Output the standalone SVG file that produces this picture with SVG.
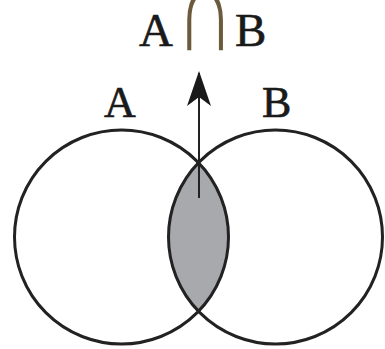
<svg xmlns="http://www.w3.org/2000/svg" width="385" height="349" viewBox="0 0 385 349">
<style>
.c{fill:none;stroke:#222;stroke-width:3}
.t{font-family:"Liberation Serif","DejaVu Serif",serif;fill:#1a1a1a;stroke:#1a1a1a;stroke-width:0.6}
.conn{stroke:#222;stroke-width:2;fill:none}
</style>
<defs>
<marker id="ah" viewBox="0 0 36 24" refX="34" refY="12" markerWidth="36" markerHeight="24" markerUnits="userSpaceOnUse" orient="auto">
<path d="M36,12 L1,0 L10,12 L1,24 Z" fill="#1a1a1a"/>
</marker>
</defs>
<rect width="385" height="349" fill="#fff"/>
<g id="intersection">
<path d="M198.5,162.7 A107,107 0 0,1 198.5,311.3 A107,107 0 0,1 198.5,162.7 Z" fill="#a8a9ac"/>
</g>
<g id="setA">
<circle class="c" cx="121.5" cy="237" r="107"/>
<text class="t" x="104" y="117" font-size="44">A</text>
</g>
<g id="setB">
<circle class="c" cx="275.5" cy="237" r="107"/>
<text class="t" x="262" y="117" font-size="44">B</text>
</g>
<g id="title">
<text class="t" x="139" y="46" font-size="47">A</text>
<text transform="translate(205,50) scale(0.95,1.45)" font-size="84" font-family="Liberation Serif, DejaVu Serif, serif" fill="#6b5a3c" text-anchor="middle">∩</text>
<text class="t" x="235" y="46" font-size="47">B</text>
</g>
<g id="connectors">
<line class="conn" x1="199" y1="198" x2="199" y2="73" marker-end="url(#ah)"/>
</g>
</svg>
